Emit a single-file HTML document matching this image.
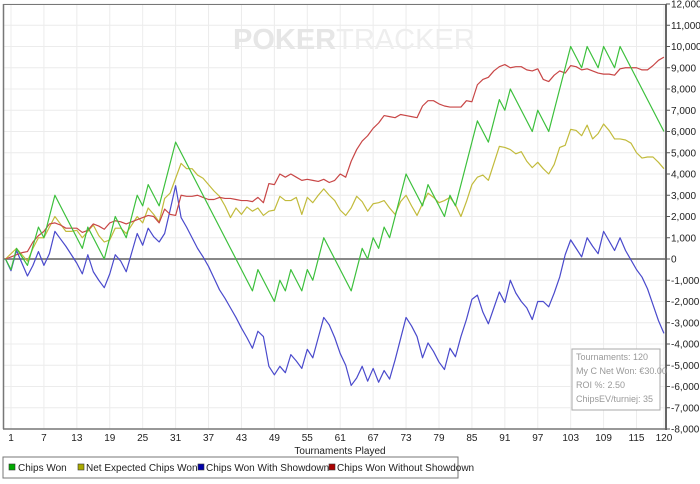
<!DOCTYPE html>
<html><head><meta charset="utf-8"><style>
body{margin:0;background:#fff;width:700px;height:484px;overflow:hidden;font-family:"Liberation Sans",sans-serif}
svg{display:block}
</style></head><body>
<svg id="chart" width="700" height="484" xmlns="http://www.w3.org/2000/svg" font-family="Liberation Sans, sans-serif">
<rect x="0" y="0" width="700" height="484" fill="#fff"/>
<g id="grid"></g>
<text x="233" y="49" font-size="29" font-weight="bold" fill="#e6e6e6">POKER<tspan fill="#eeeeee" font-weight="normal">TRACKER</tspan></text>
<g id="series"></g>
<line x1="3.5" y1="4" x2="3.5" y2="429" stroke="#777" stroke-width="1.5"/>
<line x1="3" y1="4.5" x2="666" y2="4.5" stroke="#777" stroke-width="1"/>
<line x1="3" y1="429" x2="666" y2="429" stroke="#777" stroke-width="1.5"/>
<line x1="666" y1="4" x2="666" y2="430" stroke="#666" stroke-width="2"/>
<g id="yaxis"></g>
<g id="xaxis"></g>
<text x="340" y="454" font-size="10" text-anchor="middle" fill="#222">Tournaments Played</text>
<g>
<rect x="572" y="349" width="88" height="61" fill="#fff" stroke="#aaa"/>
<text x="576" y="360" font-size="9" fill="#999">Tournaments: 120</text>
<text x="576" y="374" font-size="9" fill="#999">My C Net Won: €30.00</text>
<text x="576" y="388" font-size="9" fill="#999">ROI %: 2.50</text>
<text x="576" y="402" font-size="9" fill="#999">ChipsEV/turniej: 35</text>
</g>
<g>
<rect x="3" y="457" width="455" height="21" fill="#fff" stroke="#777"/>
<g><rect x="9" y="464" width="6" height="6" fill="#0a0" stroke="#333" stroke-width="0.6"/><text x="18" y="471" font-size="10" fill="#222">Chips Won</text></g>
<g><rect x="78" y="464" width="6" height="6" fill="#aa0" stroke="#333" stroke-width="0.6"/><text x="86" y="471" font-size="10" fill="#222">Net Expected Chips Won</text></g>
<g><rect x="198" y="464" width="6" height="6" fill="#00a" stroke="#333" stroke-width="0.6"/><text x="206" y="471" font-size="10" fill="#222">Chips Won With Showdown</text></g>
<g><rect x="329" y="464" width="6" height="6" fill="#a00" stroke="#333" stroke-width="0.6"/><text x="337" y="471" font-size="10" fill="#222">Chips Won Without Showdown</text></g>
</g>
</svg>
<script>
const xTickLabels=[1,7,13,19,25,31,37,43,49,55,61,67,73,79,85,91,97,103,109,115,120];
const yTickLabels=[12000,11000,10000,9000,8000,7000,6000,5000,4000,3000,2000,1000,0,-1000,-2000,-3000,-4000,-5000,-6000,-7000,-8000];
const chipsWon=[0,-500,500,100,-300,600,1500,1000,2000,3000,2500,2000,1500,1000,500,1500,1000,500,0,1000,2000,1500,1000,2000,3000,2500,3500,3000,2500,3500,4500,5500,5000,4500,4000,3500,3000,2500,2000,1500,1000,500,0,-500,-1000,-1500,-500,-1000,-1500,-2000,-1000,-1500,-500,-1000,-1500,-500,-1000,0,1000,500,0,-500,-1000,-1500,-500,500,0,1000,500,1500,1000,2000,3000,4000,3500,3000,2500,3500,3000,2500,2000,3000,2500,3500,4500,5500,6500,6000,5500,6500,7500,7000,8000,7500,7000,6500,6000,7000,6500,6000,7000,8000,9000,10000,9500,9000,10000,9500,9000,10000,9500,9000,10000,9500,9000,8500,8000,7500,7000,6500,6000];
const netExpected=[0,250,500,200,-100,500,1000,1000,1500,2000,1650,1300,1300,1350,1000,1300,1600,1100,800,900,1450,1450,1200,1600,2000,1700,2400,2100,1750,2850,3100,3800,4500,4250,4250,3950,3800,3500,3200,2950,2500,1950,2400,2100,2450,2250,2400,2050,2250,2300,2950,2750,2750,2900,2100,2900,2650,3000,3300,3000,2750,2300,2050,2400,2950,2700,2250,2600,2650,2750,2400,2100,2700,3000,2500,2050,2600,3100,2900,2650,2750,2900,2550,2000,2700,3500,3850,3950,3700,4500,5300,5250,5150,4950,5050,4600,4300,4550,4250,4000,4450,5250,5350,6100,6050,5800,6300,5650,5900,6350,6050,5650,5650,5600,5450,5000,4750,4800,4800,4550,4250];
const withShowdown=[0,-550,400,-200,-800,-300,350,-300,250,1300,950,600,200,-200,-700,200,-600,-1000,-1350,-700,200,-100,-600,300,1200,650,1450,1050,800,1200,2300,3450,1950,1500,1000,500,100,-350,-900,-1450,-1850,-2300,-2750,-3250,-3700,-4200,-3400,-3650,-5050,-5450,-5050,-5350,-4500,-4800,-5150,-4250,-4650,-3700,-2750,-3100,-3700,-4450,-5000,-5950,-5600,-5050,-5750,-5150,-5800,-5250,-5650,-4750,-3750,-2750,-3150,-3650,-4650,-3950,-4350,-4850,-5200,-4200,-4600,-3650,-2850,-1900,-1700,-2500,-3050,-2300,-1550,-2050,-1000,-1600,-2000,-2300,-2850,-2000,-2000,-2250,-1600,-850,200,900,500,100,1000,600,250,1300,850,400,1000,400,-50,-500,-850,-1400,-2150,-2900,-3500];
const withoutShowdown=[0,100,200,300,350,800,1100,1300,1650,1700,1600,1450,1450,1450,1250,1350,1650,1550,1400,1700,1800,1750,1650,1750,1850,1950,2050,2000,1700,2350,2100,2050,3000,2950,2950,3000,2900,2800,2800,2900,2850,2850,2800,2750,2750,2700,2900,2650,3550,3500,4000,3850,4000,3850,3700,3750,3700,3650,3750,3600,3700,4000,3850,4600,5150,5550,5800,6150,6400,6750,6700,6650,6800,6750,6700,6650,7200,7450,7450,7300,7200,7150,7150,7150,7450,7400,8200,8450,8550,8850,9050,9150,9000,9050,9050,8900,8850,8950,8450,8350,8650,8850,8750,9100,9050,8900,8950,8850,8750,8700,8700,8650,8950,9000,9000,9000,8900,8900,9100,9350,9500];

const NS='http://www.w3.org/2000/svg';
function xScale(i){return 11+(i-1)*5.487;}
function yScale(v){return 259-v*0.02125;}
function mk(tag,attrs,parent){const e=document.createElementNS(NS,tag);for(const k in attrs)e.setAttribute(k,attrs[k]);parent.appendChild(e);return e;}

const grid=document.getElementById('grid');
const yaxis=document.getElementById('yaxis');
const xaxis=document.getElementById('xaxis');
yTickLabels.forEach(v=>{
  const y=yScale(v);
  if(v!==0){
    const g=mk('line',{x1:3,x2:666,y1:y,y2:y,stroke:'#ececec','stroke-width':1},grid);
    
    
  }
  const t=mk('line',{x1:666,x2:670,y1:y,y2:y,stroke:'#555','stroke-width':1},yaxis);
  
  
  const l=mk('text',{x:671,y:y+3.5,'font-size':10,fill:'#222'},yaxis);
  
  
  l.textContent=v.toLocaleString('en-US');
});
xTickLabels.forEach(v=>{
  const x=xScale(v);
  const g=mk('line',{x1:x,x2:x,y1:4,y2:429,stroke:'#ececec','stroke-width':1},grid);
  
  
  const l=mk('text',{x:x,y:441,'font-size':10,fill:'#222','text-anchor':'middle'},xaxis);
  
  
  l.textContent=String(v);
});
const zl=mk('line',{x1:3,x2:666,y1:yScale(0),y2:yScale(0),stroke:'#888','stroke-width':2},grid);



const seriesG=document.getElementById('series');
function drawLine(arr,color,name){
  const pts=arr.map((v,i)=>xScale(i).toFixed(2)+','+yScale(v).toFixed(2)).join(' ');
  const p=mk('polyline',{points:pts,fill:'none',stroke:color,'stroke-width':1.2,'stroke-linejoin':'round'},seriesG);
  
  
}
drawLine(withShowdown,'#4a4acc','line-chips-won-with-showdown');
drawLine(netExpected,'#c2bb3c','line-net-expected-chips-won');
drawLine(withoutShowdown,'#c84646','line-chips-won-without-showdown');
drawLine(chipsWon,'#3cc03c','line-chips-won');
</script>
</body></html>
